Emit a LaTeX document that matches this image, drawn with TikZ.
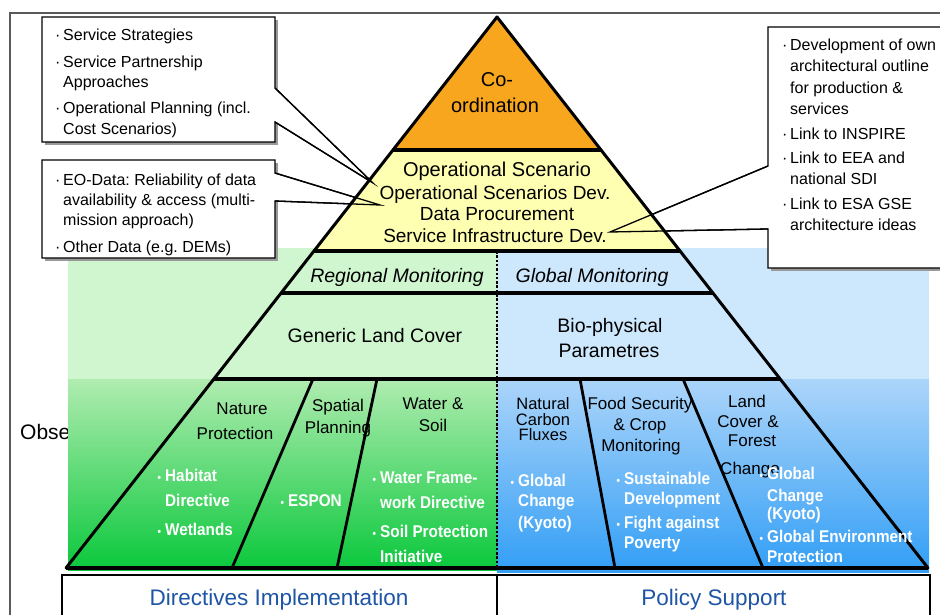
\documentclass[tikz,border=0pt]{standalone}
\usepackage{fontspec}
\setmainfont{Liberation Sans}
\newfontfamily\condfont[FakeStretch=0.9]{Liberation Sans}
\usetikzlibrary{calc}
\definecolor{orng}{RGB}{247,166,30}
\definecolor{ylw}{RGB}{255,255,178}
\definecolor{pgreen}{RGB}{208,246,208}
\definecolor{mgreen}{RGB}{176,236,176}
\definecolor{dgreen}{RGB}{10,200,60}
\definecolor{pblue}{RGB}{205,231,252}
\definecolor{mblue}{RGB}{172,213,250}
\definecolor{dblue}{RGB}{50,158,245}
\definecolor{txtblue}{RGB}{30,85,165}
\definecolor{framegray}{RGB}{90,90,90}
\newcommand\cbul{\makebox[8pt][l]{·}}
\newcommand\cind{\hspace*{8pt}}
\newcommand\wbul{\makebox[0pt][r]{{\fontsize{11}{11}\selectfont •}\hspace{4pt}}}
\frenchspacing
\begin{document}
\begin{tikzpicture}[x=1pt,y=-1pt,
  framel/.style={draw=framegray,line width=1.2pt},
  pyrline/.style={line width=3pt,line cap=round,line join=round},
  sepline/.style={line width=3.6pt},
  divline/.style={line width=2.8pt},
  midline/.style={line width=2.2pt,dash pattern=on 2.5pt off 1.8pt},
  callbox/.style={fill=white,draw=black,line width=1.3pt,line join=miter},
  wedgeline/.style={draw=black,line width=1.3pt},
  shadowc/.style={fill=black!40},
  calltext/.style={font=\fontsize{16}{20.5}\selectfont,align=left,anchor=north west,inner sep=0pt},
  ptext/.style={font=\fontsize{19}{21}\selectfont,anchor=base,inner sep=0pt},
  itext/.style={font=\itshape\fontsize{19.5}{21}\selectfont,anchor=base,inner sep=0pt},
  htext/.style={font=\fontsize{17}{20}\selectfont,anchor=base,inner sep=0pt},
  wtext/.style={font=\condfont\bfseries\fontsize{17}{20}\selectfont,text=white,anchor=base west,inner sep=0pt},
  btext/.style={font=\fontsize{22.5}{26}\selectfont,text=txtblue,anchor=base,inner sep=0pt}
]
\useasboundingbox (0,0) rectangle (940,615);

% frame
\draw[framel] (10,630) -- (10,13) -- (950,13);
\node[font=\fontsize{21}{24}\selectfont,anchor=base west,inner sep=0pt] (obs) at (20,439) {Obse};

% backgrounds
\fill[pgreen] (68,248) rectangle (497,379);
\shade[top color=mgreen,bottom color=dgreen] (68,379) rectangle (497,570);
\fill[pblue] (497,248) rectangle (929,379);
\shade[top color=mblue,bottom color=dblue] (497,379) rectangle (929,572);

% callout boxes
\coordinate (b1a) at (275,88);  \coordinate (b1b) at (275,122); \coordinate (t1) at (373,183);
\coordinate (b2a) at (275,173); \coordinate (b2b) at (275,201); \coordinate (t2) at (380,205);
\coordinate (b3a) at (768,166); \coordinate (b3b) at (768,229); \coordinate (t3) at (610,232);
\fill[shadowc] (45,20) rectangle (278,145);
\draw[callbox] (42,17) -- (275,17) -- (b1a) -- (t1) -- (b1b) -- (275,142) -- (42,142) -- cycle;
\fill[shadowc] (45,163) rectangle (278,261);
\draw[callbox] (42,160) -- (275,160) -- (b2a) -- (t2) -- (b2b) -- (275,258) -- (42,258) -- cycle;
\fill[shadowc] (771,30) rectangle (950,271);
\draw[callbox] (950,27) -- (768,27) -- (b3a) -- (t3) -- (b3b) -- (768,268) -- (950,268);

% pyramid geometry
\coordinate (A) at (497,17);
\coordinate (BL) at (66,568);
\coordinate (BR) at (928,568);
\foreach \yy in {150,251,293,379} {
  \coordinate (L\yy) at ($(A)!{(\yy-17)/551}!(BL)$);
  \coordinate (R\yy) at ($(A)!{(\yy-17)/551}!(BR)$);
}
\fill[orng] (A) -- (L150) -- (R150) -- cycle;
\fill[ylw] (L150) -- (R150) -- (R251) -- (L251) -- cycle;

% bottom band dividers
\coordinate (d1t) at (313,379); \coordinate (d1b) at (232,568);
\coordinate (d2t) at (377,379); \coordinate (d2b) at (337,568);
\coordinate (d3t) at (580,379); \coordinate (d3b) at (615,568);
\coordinate (d4t) at (683,379); \coordinate (d4b) at (763,568);
\coordinate (mt) at (497,251); \coordinate (mb) at (497,568);
\draw[midline] (mt) -- (mb);
\draw[divline] (d1t) -- (d1b);
\draw[divline] (d2t) -- (d2b);
\draw[divline] (d3t) -- (d3b);
\draw[divline] (d4t) -- (d4b);

\draw[sepline] (L150) -- (R150);
\draw[sepline] (L251) -- (R251);
\draw[sepline] (L293) -- (R293);
\draw[sepline] (L379) -- (R379);
\draw[sepline] (BL) -- (BR);
\draw[pyrline] (BL) -- (A) -- (BR);

% wedge lines on top
\draw[wedgeline] (b1a) -- (t1) -- (b1b);
\draw[wedgeline] (b2a) -- (t2) -- (b2b);
\draw[wedgeline] (b3a) -- (t3) -- (b3b);

% bottom boxes
\fill[white] (62,575) rectangle (930,630);
\draw[line width=1.2pt] (62,630) -- (62,575) -- (930,575) -- (930,630);
\coordinate (bt) at (497,575); \coordinate (bb) at (497,630);
\draw[line width=1.2pt] (bt) -- (bb);

% callout texts
\node[calltext] (c1) at (55,29) {\cbul Service Strategies\\[6pt]
\cbul Service Partnership\\ \cind Approaches\\[5.5pt]
\cbul Operational Planning (incl.\\ \cind Cost Scenarios)};
\node[calltext,font=\fontsize{16}{20}\selectfont] (c2) at (55,174) {\cbul EO-Data: Reliability of data\\
\cind availability \& access (multi-\\ \cind mission approach)\\[7pt]
\cbul Other Data (e.g. DEMs)};
\node[calltext,font=\fontsize{16}{21.2}\selectfont] (c3) at (782,39) {\cbul Development of own\\
\cind architectural outline\\ \cind for production \&\\ \cind services\\[3.5pt]
\cbul Link to INSPIRE\\[3.5pt]
\cbul Link to EEA and\\ \cind national SDI\\[3.5pt]
\cbul Link to ESA GSE\\ \cind architecture ideas};

% pyramid texts
\node[ptext,font=\fontsize{20}{21}\selectfont] (co1) at (497,87) {Co-};
\node[ptext,font=\fontsize{20}{21}\selectfont] (co2) at (495,113) {ordination};
\node[ptext,font=\fontsize{20}{21}\selectfont] (os0) at (497,177) {Operational Scenario};
\node[ptext] (os1) at (495,200) {Operational Scenarios Dev.};
\node[ptext] (os2) at (497,220) {Data Procurement};
\node[ptext] (os3) at (495,242) {Service Infrastructure Dev.};
\node[itext] (rm) at (397,282) {Regional Monitoring};
\node[itext] (gm) at (592,282) {Global Monitoring};
\node[itext,font=\fontsize{19.5}{21}\selectfont] (glc) at (375,342) {Generic Land Cover};
\node[itext,font=\fontsize{19.5}{21}\selectfont] (bp1) at (610,332) {Bio-physical};
\node[itext,font=\fontsize{19.5}{21}\selectfont] (bp2) at (609,357) {Parametres};

% bottom band headers
\node[htext] (np1) at (242,414) {Nature};
\node[htext] (np2) at (235,439) {Protection};
\node[htext] (sp1) at (338,411) {Spatial};
\node[htext] (sp2) at (338,433) {Planning};
\node[htext] (ws1) at (433,409) {Water \&};
\node[htext] (ws2) at (433,431) {Soil};
\node[htext,font=\fontsize{16.5}{18}\selectfont] (nc1) at (543,409) {Natural};
\node[htext,font=\fontsize{16.5}{18}\selectfont] (nc2) at (543,425) {Carbon};
\node[htext,font=\fontsize{16.5}{18}\selectfont] (nc3) at (543,440) {Fluxes};
\node[htext] (fs1) at (640,409) {Food Security};
\node[htext] (fs2) at (640,430) {\& Crop};
\node[htext] (fs3) at (641,451) {Monitoring};
\node[htext] (lc1) at (747,407) {Land};
\node[htext] (lc2) at (748,427) {Cover \&};
\node[htext] (lc3) at (752,446) {Forest};
\node[htext] (lc4) at (750,474) {Change};

% white bullet texts
\node[wtext] (w1) at (165,481) {\wbul Habitat};
\node[wtext] (w2) at (165,506) {Directive};
\node[wtext] (w3) at (165,535) {\wbul Wetlands};
\node[wtext] (w4) at (288,506) {\wbul ESPON};
\node[wtext] (w5) at (380,483) {\wbul Water Frame-};
\node[wtext] (w6) at (380,508) {work Directive};
\node[wtext] (w7) at (380,537) {\wbul Soil Protection};
\node[wtext] (w8) at (380,562) {Initiative};
\node[wtext] (w9) at (518,486) {\wbul Global};
\node[wtext] (w10) at (518,506) {Change};
\node[wtext] (w11) at (518,528) {(Kyoto)};
\node[wtext] (w12) at (624,484) {\wbul Sustainable};
\node[wtext] (w13) at (624,504) {Development};
\node[wtext] (w14) at (624,528) {\wbul Fight against};
\node[wtext] (w15) at (624,548) {Poverty};
\node[wtext] (w16) at (767,479) {\wbul Global};
\node[wtext] (w17) at (767,501) {Change};
\node[wtext] (w18) at (767,519) {(Kyoto)};
\node[wtext] (w19) at (767,542) {\wbul Global Environment};
\node[wtext] (w20) at (767,562) {Protection};

% bottom labels
\node[btext] (di) at (279,605) {Directives Implementation};
\node[btext] (ps) at (714,605) {Policy Support};
\end{tikzpicture}
\end{document}
